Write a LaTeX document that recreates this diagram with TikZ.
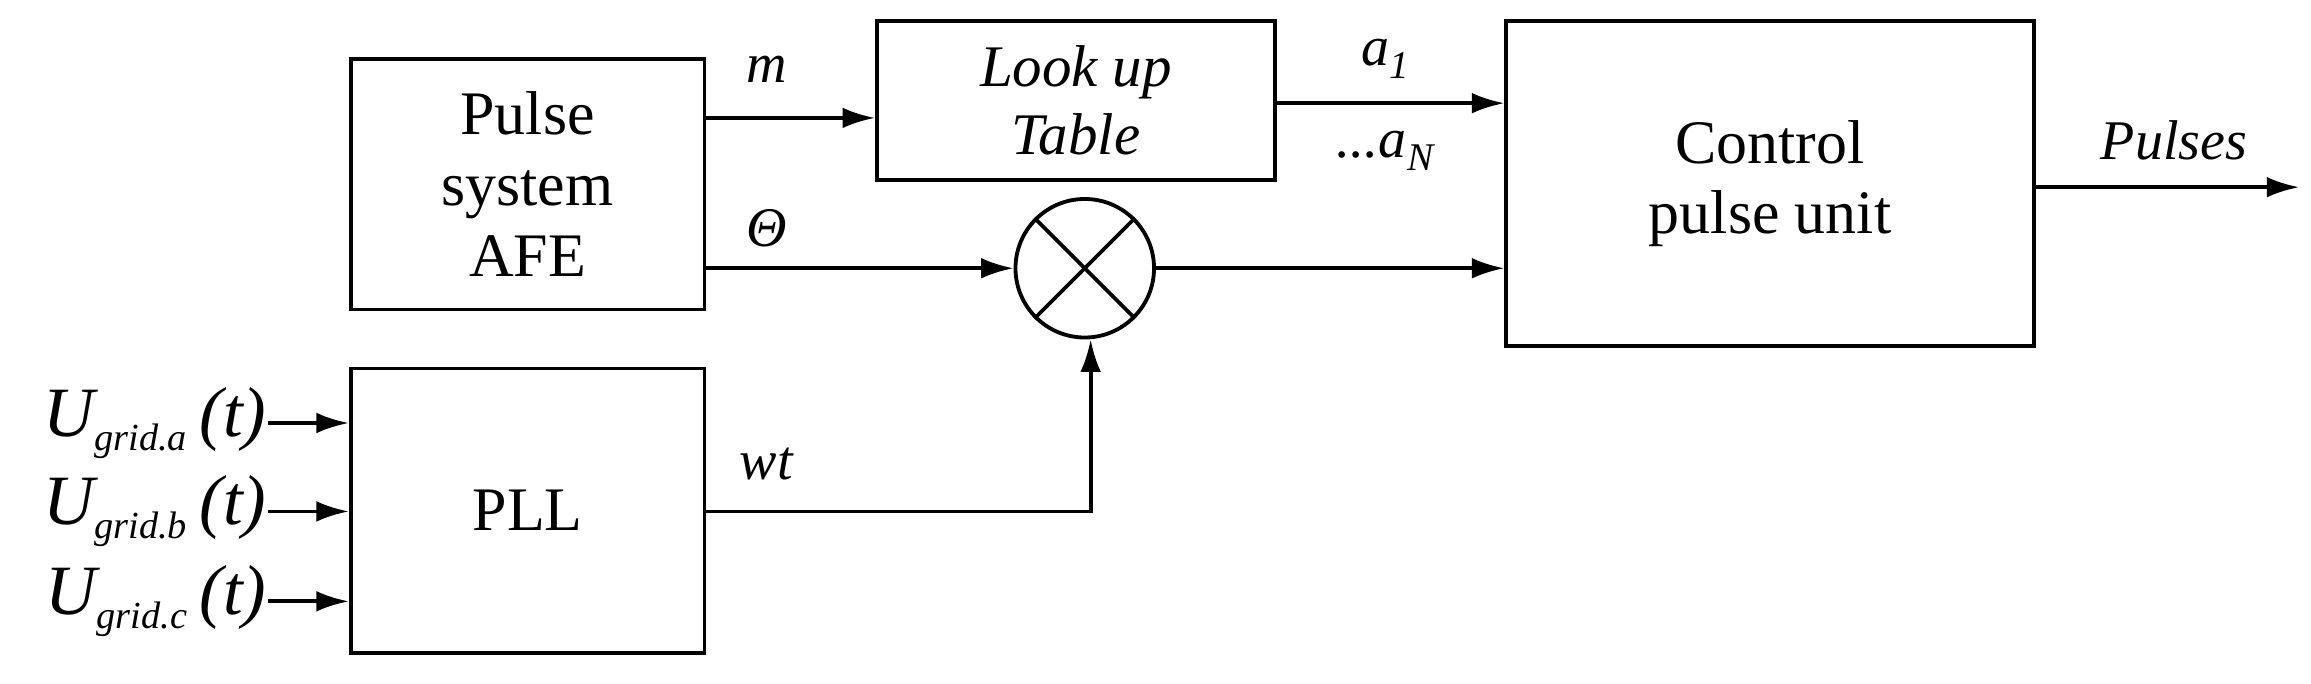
\documentclass[tikz,border=0pt]{standalone}
\usepackage{fontspec}
\setmainfont{Liberation Serif}
\usetikzlibrary{arrows.meta}
\begin{document}
\begin{tikzpicture}[x=1pt,y=-1pt,line width=2.6pt,
  box/.style={draw,inner sep=0pt,align=center,font=\fontsize{42}{48}\selectfont},
  lbl/.style={font=\fontsize{38}{44}\selectfont\itshape,inner sep=0pt},
  arr/.style={-{Latex[length=22pt,width=14pt]}}]
\useasboundingbox (0,0) rectangle (1568,464);
\node[box,minimum width=240pt,minimum height=170pt] (afe) at (358,125) {Pulse\\system\\AFE};
\node[box,minimum width=270pt,minimum height=108pt,font=\fontsize{40}{46}\selectfont\itshape] (lut) at (730,68) {Look up\\Table};
\node[box,minimum width=358pt,minimum height=221pt] (cpu) at (1201,124.5) {Control\\pulse unit};
\node[box,minimum width=240pt,minimum height=193pt] (pll) at (358,346.5) {PLL};
\node[draw,circle,minimum size=94pt,inner sep=0pt] (mul) at (736,182) {};
\draw (mul.north west) -- (mul.south east) (mul.north east) -- (mul.south west);
\draw[arr] (afe.east |- 0,80) -- (lut.west |- 0,80);
\node[lbl] at (520,47) {m};
\draw[arr] (lut.east |- 0,70) -- (cpu.west |- 0,70);
\node[lbl] at (940,40) {a\textsubscript{1}};
\node[lbl] at (940,102) {...a\textsubscript{N}};
\draw[arr] (afe.east |- 0,182) -- (mul.west);
\node[lbl] at (520,155) {Θ};
\draw[arr] (mul.east) -- (cpu.west |- 0,182);
\coordinate (c1) at (740,347);
\draw[arr] (pll.east |- 0,347) -- (c1) -- (c1 |- mul.south);
\node[lbl] at (520,315) {wt};
\coordinate (pout) at (1560,127);
\draw[arr] (cpu.east |- pout) -- (pout);
\node[lbl] at (1475,95) {Pulses};
\foreach \y/\s/\n in {287/a/ia,347/b/ib,408/c/ic}{
  \coordinate (\n) at (182,\y);
  \draw[arr] (\n) -- (pll.west |- \n);
  \node[lbl,anchor=east,font=\fontsize{48}{50}\selectfont\itshape] at (\n) {U\textsubscript{\fontsize{26}{28}\selectfont\itshape grid.\s}\,(t)};
}
\end{tikzpicture}
\end{document}
